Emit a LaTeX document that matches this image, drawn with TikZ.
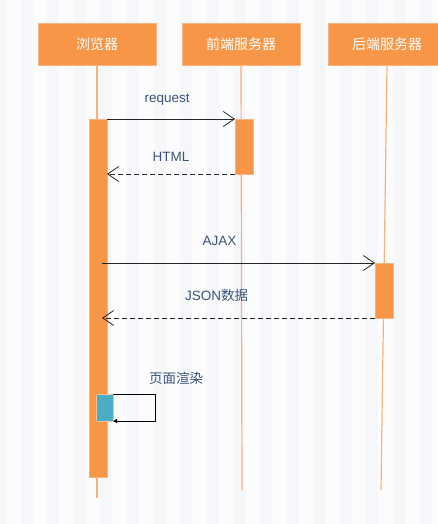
\documentclass[tikz,border=0pt]{standalone}
\usepackage{fontspec}
\setmainfont{Liberation Sans}
\newfontfamily\cjk{Noto Sans CJK SC}
\usetikzlibrary{arrows.meta,positioning}
\definecolor{boxorange}{HTML}{F79646}
\definecolor{lifeorange}{HTML}{FBB07A}
\definecolor{labelblue}{HTML}{3B5577}
\definecolor{callblue}{HTML}{4BACC6}
\definecolor{stripe}{HTML}{F5F7FA}
\definecolor{paper}{HTML}{FCFCFD}
\begin{document}
\begin{tikzpicture}
  [x=1pt,y=-1pt,
   actor/.style={rectangle,fill=boxorange,draw=boxorange!70!white,text=white,
                 minimum width=118pt,minimum height=42pt,inner sep=0,outer sep=0,
                 font=\cjk\fontsize{14}{16}\selectfont},
   bar/.style={rectangle,fill=boxorange,draw=boxorange!70!white,
               minimum width=18pt,inner sep=0,outer sep=0},
   life/.style={draw=lifeorange,line width=1.2pt},
   msg/.style={draw=black!85,line width=0.8pt,-{Straight Barb[length=11pt,width=15pt]}},
   reply/.style={msg,dash pattern=on 5pt off 3pt},
   lbl/.style={text=labelblue,inner sep=0,font=\fontsize{13.5}{15}\selectfont}]
  % background
  \fill[paper] (0,0) rectangle (438,524);
  \useasboundingbox (0,0) rectangle (438,524);
  \foreach \x in {-6,20.6,...,440}
    \fill[stripe] (\x,0) rectangle ++(12,524);
  % participants
  \node[actor] (browser) at (97,44) {浏览器};
  \node[actor] (front) at (241,44) {前端服务器};
  \node[actor] (back) at (387,44) {后端服务器};
  \coordinate (browserend) at (97,498);
  \coordinate (frontend) at (242,490);
  \coordinate (backend) at (381,490);
  \draw[life] (browser.south) -- (browserend);
  \draw[life] (front.south) -- (frontend);
  \draw[life] (back.south) -- (backend);
  % activations
  \node[bar,minimum height=358pt,anchor=north] (act1) at (98,119) {};
  \node[bar,minimum height=55pt,anchor=north] (act2) at (244,119) {};
  \node[bar,minimum height=55pt,anchor=north] (act3) at (384,263) {};
  % messages
  \draw[msg] (act1.north east) -- (act2.north west)
    node[lbl,pos=0.47,above=13pt] {request};
  \draw[reply] (act2.south west) -- (act1.east |- act2.south)
    node[lbl,pos=0.5,above=12pt] {HTML};
  \draw[msg] ([xshift=-5pt]act1.east |- act3.north) -- (act3.north west)
    node[lbl,pos=0.43,above=17pt] {AJAX};
  \draw[reply] (act3.south west) -- ([xshift=-5pt]act1.east |- act3.south)
    node[lbl,pos=0.58,above=16pt] {JSON{\cjk 数据}};
  % self call
  \node[rectangle,fill=callblue,draw=boxorange!60,minimum width=17pt,minimum height=27pt,
        inner sep=0,outer sep=0,anchor=north west] (render) at (96,394) {};
  \draw[line width=0.8pt,-{Latex[length=4pt,width=5pt]}]
    (render.north east) -- ++(42,0) |- (render.south east);
  \node[lbl,font=\cjk\fontsize{13.5}{15}\selectfont] (renderlbl) at (176,378) {页面渲染};
\end{tikzpicture}
\end{document}
